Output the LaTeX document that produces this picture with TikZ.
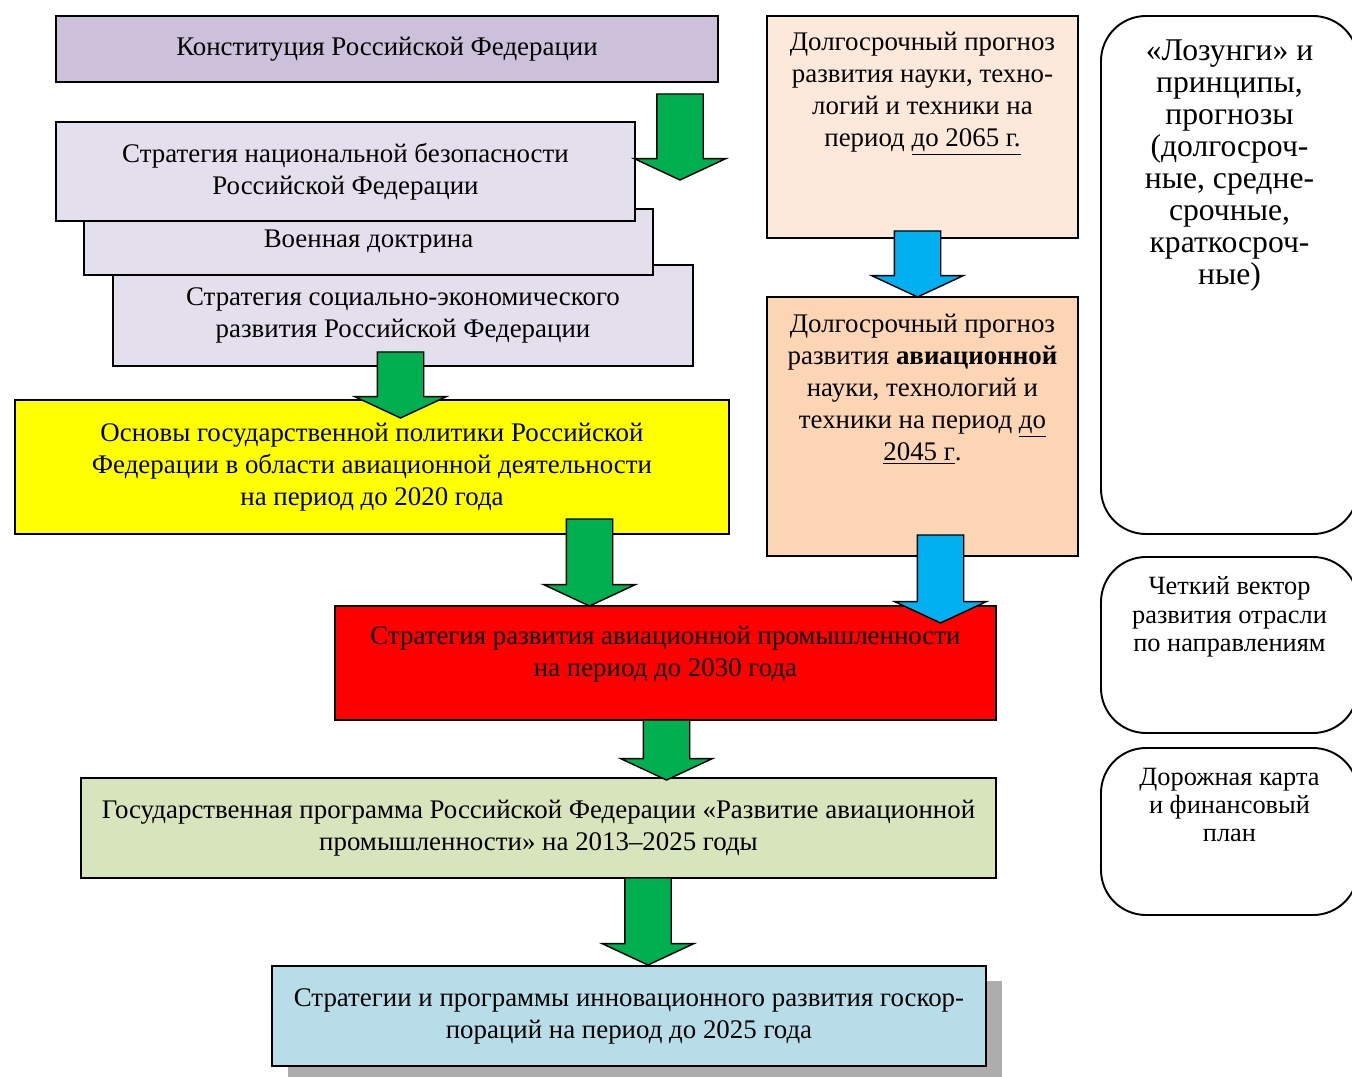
\documentclass[tikz,border=0pt]{standalone}
\usepackage{fontspec}
\setmainfont{Liberation Serif}
\usepackage{xcolor}
\usepackage{tikz}
\usetikzlibrary{shapes.arrows, positioning, shadows}
\definecolor{doclilac}{HTML}{CCC0DA}
\definecolor{doclav}{HTML}{E4DFEC}
\definecolor{docyellow}{HTML}{FFFF00}
\definecolor{docred}{HTML}{FF0000}
\definecolor{docolive}{HTML}{D8E4BC}
\definecolor{docblue}{HTML}{B7DEE8}
\definecolor{fcpeachA}{HTML}{FDE9D9}
\definecolor{fcpeachB}{HTML}{FCD5B4}
\definecolor{arrgreen}{HTML}{00B050}
\definecolor{arrblue}{HTML}{00B0F0}

\begin{document}
\begin{tikzpicture}[
    doc/.style={rectangle, draw=black, line width=1.1pt, inner sep=0pt, align=center, font=\fontsize{15.3}{18.2}\selectfont},
    fcast/.style={rectangle, draw=black, line width=1.1pt, minimum width=6.22cm, inner sep=0pt},
    fctext/.style={inner sep=0pt, align=center, font=\fontsize{15.3}{18.2}\selectfont},
    note/.style={rectangle, draw=black, line width=1.1pt, rounded corners=0.9cm, minimum width=5.14cm, inner sep=0pt},
    garr/.style={single arrow, draw=black, line width=0.8pt, fill=arrgreen, rotate=-90, minimum width=1.8cm, single arrow head extend=0.45cm, single arrow tip angle=130, inner xsep=0pt, inner ysep=0.45cm, outer sep=0pt, anchor=tail},
    barr/.style={garr, fill=arrblue}
]
\useasboundingbox (0,0) rectangle (27.04,-21.54);

% left column of documents
\node[doc, fill=doclav, minimum width=11.60cm, minimum height=2.02cm] (soc) at (8.06,-6.31) {Стратегия социально-экономического\\развития Российской Федерации};
\node[doc, fill=doclav, minimum width=11.38cm, minimum height=1.32cm] (mil) at (7.37,-4.84) {Военная доктрина};
\node[doc, fill=doclav, minimum width=11.58cm, minimum height=1.98cm] (nsec) at (6.91,-3.43) {Стратегия национальной безопасности\\Российской Федерации};
\node[doc, fill=doclilac, minimum width=13.24cm, minimum height=1.32cm] (cons) at (7.74,-0.98) {Конституция Российской Федерации};
\node[doc, fill=docyellow, minimum width=14.28cm, minimum height=2.68cm] (base) at (7.44,-9.34) {Основы государственной политики Российской\\Федерации в области авиационной деятельности\\на период до 2020 года};
\node[doc, fill=docred, minimum width=13.22cm, minimum height=2.28cm, text depth=0.45cm] (avstr) at (13.31,-13.26) {Стратегия развития авиационной промышленности\\на период до 2030 года};
\node[doc, fill=docolive, minimum width=18.30cm, minimum height=2.00cm] (gprog) at (10.77,-16.56) {Государственная программа Российской Федерации «Развитие авиационной\\промышленности» на 2013–2025 годы};
\node[doc, fill=docblue, minimum width=14.28cm, minimum height=2.00cm, drop shadow={shadow xshift=0.32cm, shadow yshift=-0.3cm, opacity=1, fill=black!32}] (innov) at (12.58,-20.32) {Стратегии и программы инновационного развития госкор-\\пораций на период до 2025 года};

% forecasts
\node[fcast, fill=fcpeachA, minimum height=4.44cm] (fc1) at (18.45,-2.54) {};
\node[fctext, below=0.34cm of fc1.north] (fc1t) {Долгосрочный прогноз\\развития науки, техно-\\логий и техники на\\период \underline{до 2065 г.}};
\node[fcast, fill=fcpeachB, minimum height=5.18cm] (fc2) at (18.45,-8.53) {};
\node[fctext, below=0.35cm of fc2.north] (fc2t) {Долгосрочный прогноз\\развития \textbf{авиационной}\\науки, технологий и\\техники на период \underline{до}\\\underline{2045 г}.};

% right notes
\node[note, minimum height=10.36cm] (n1) at (24.59,-5.50) {};
\node[fctext, font=\fontsize{18}{18.2}\selectfont, below=0.49cm of n1.north] (n1t) {«Лозунги» и\\принципы,\\прогнозы\\(долгосроч-\\ные, средне-\\срочные,\\краткосроч-\\ные)};
\node[note, minimum height=3.52cm] (n2) at (24.59,-12.90) {};
\node[fctext, font=\fontsize{15}{16}\selectfont, below=0.41cm of n2.north] (n2t) {Четкий вектор\\развития отрасли\\по направлениям};
\node[note, minimum height=3.34cm] (n3) at (24.59,-16.63) {};
\node[fctext, font=\fontsize{15}{16}\selectfont, below=0.41cm of n3.north] (n3t) {Дорожная карта\\и финансовый\\план};

% block arrows
\node[garr, minimum height=1.72cm] (a1) at (13.60,-1.88) {};
\node[garr, minimum height=1.32cm] (a2) at (8.01,-7.04) {};
\node[garr, minimum height=1.74cm] (a3) at (11.79,-10.38) {};
\node[barr, minimum height=1.32cm] (a4) at (18.35,-4.62) {};
\node[barr, minimum height=1.76cm] (a5) at (18.81,-10.70) {};
\node[garr, minimum height=1.20cm] (a6) at (13.33,-14.40) {};
\node[garr, minimum height=1.74cm] (a7) at (12.96,-17.56) {};
\end{tikzpicture}
\end{document}
